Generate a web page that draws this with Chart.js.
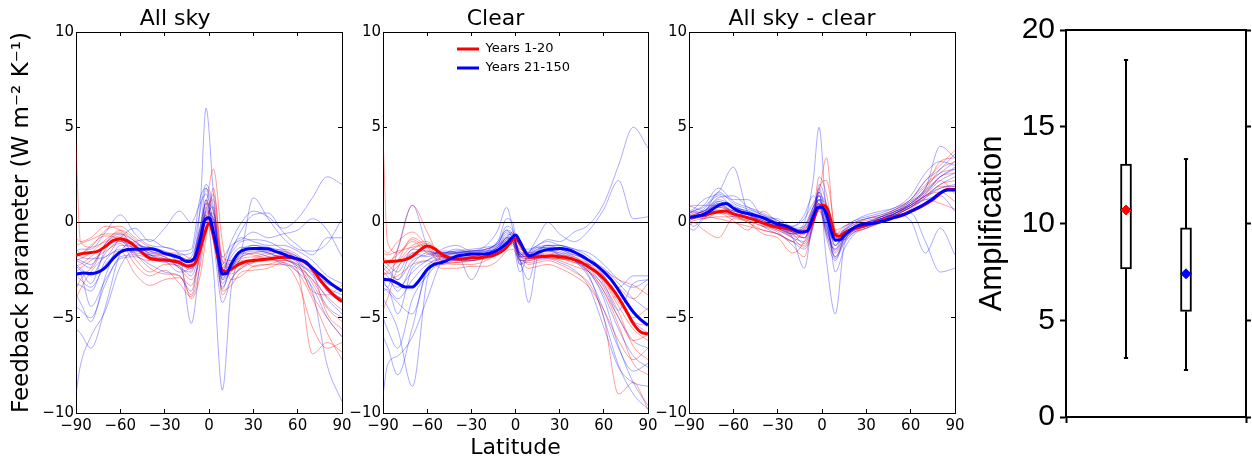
<!DOCTYPE html>
<html>
<head>
<meta charset="utf-8">
<script src="https://cdn.jsdelivr.net/npm/chart.js@4.4.0/dist/chart.umd.min.js"></script>
<style>
html, body { margin: 0; padding: 0; background: #fff; width: 1252px; height: 457px; overflow: hidden; }
canvas { position: absolute; left: 0; top: 0; }
</style>
</head>
<body>
<canvas id="allsky" width="1252" height="470"></canvas>
<canvas id="clear" width="1252" height="470"></canvas>
<canvas id="diff" width="1252" height="470"></canvas>
<canvas id="amp" width="1252" height="470"></canvas>
<script>
// latitudes of the mean curves and of the individual model curves
var latMean = [-90,-85,-80,-75,-70,-65,-60,-55,-50,-45,-40,-35,-30,-25,-20,-15,-10,-6,-3,0,3,6,9,12,15,20,25,30,35,40,45,50,55,60,65,70,75,80,85,90];
var latMember = [-90,-87,-80,-70,-60,-50,-40,-30,-20,-12,-6,-2,3,9,15,22,30,40,50,60,70,80,90];

// All sky
var allRedMean = [-1.71,-1.62,-1.58,-1.5,-1.25,-0.95,-0.86,-0.98,-1.25,-1.6,-1.88,-1.95,-1.98,-2.02,-2.1,-2.28,-2.2,-1.4,-0.6,-0.05,-0.7,-1.8,-2.5,-2.58,-2.45,-2.2,-2.05,-2.0,-1.96,-1.92,-1.86,-1.82,-1.84,-1.92,-2.1,-2.45,-3.0,-3.45,-3.85,-4.15];
var allBlueMean = [-2.71,-2.65,-2.68,-2.6,-2.35,-1.9,-1.55,-1.42,-1.4,-1.4,-1.38,-1.45,-1.62,-1.72,-1.85,-2.05,-1.9,-0.9,0.1,0.25,-0.5,-1.6,-2.7,-2.68,-2.2,-1.6,-1.4,-1.37,-1.37,-1.38,-1.52,-1.65,-1.8,-1.92,-2.05,-2.4,-2.72,-3.05,-3.35,-3.6];
var allRedMembers = [
    [4.1,-1.0,-1.3,-1.0,-0.7,-1.3,-1.8,-2.0,-2.2,-2.5,-1.0,0.6,1.2,-2.4,-2.7,-2.4,-2.1,-1.9,-1.7,-2.0,-3.2,-4.5,-5.2],
    [-2.0,-1.9,-1.6,-0.9,-0.5,-1.6,-2.4,-2.7,-2.8,-3.8,-1.5,0.8,2.8,-1.0,-3.0,-2.8,-2.3,-2.2,-2.2,-3.1,-5.5,-6.6,-6.3],
    [-1.2,-1.1,-0.9,-0.6,-0.6,-1.2,-1.6,-1.7,-1.8,-2.0,-0.6,0.3,-0.4,-2.8,-2.2,-1.8,-1.6,-1.5,-1.4,-1.7,-2.5,-3.6,-4.0],
    [-2.6,-2.4,-2.0,-1.5,-1.1,-2.2,-2.8,-2.5,-3.2,-3.9,-2.3,-0.4,0.2,-3.6,-3.3,-2.6,-2.5,-2.4,-2.1,-2.6,-4.0,-5.8,-7.2],
    [-3.5,-3.0,-2.4,-1.1,-0.4,-0.9,-1.7,-1.9,-2.0,-2.4,-0.9,0.1,0.5,-2.2,-2.5,-2.2,-1.9,-1.7,-1.5,-2.1,-3.6,-3.8,-3.3],
    [-1.4,-1.6,-1.3,-0.4,-0.2,-0.8,-1.3,-1.6,-1.6,-1.9,-1.3,-0.2,1.5,-1.8,-2.0,-1.6,-1.7,-1.9,-1.8,-2.3,-3.0,-3.9,-4.6],
    [-4.0,-3.5,-2.6,-1.8,-1.5,-2.7,-3.3,-3.0,-2.9,-3.3,-1.6,0.3,0.0,-3.8,-3.0,-2.3,-2.1,-2.0,-2.0,-2.5,-6.9,-6.3,-6.8],
    [-1.8,-1.7,-1.2,-0.7,-0.9,-1.7,-2.0,-1.9,-2.4,-3.0,-1.8,0.2,0.8,-3.0,-2.6,-1.9,-1.8,-1.6,-1.6,-1.9,-2.6,-4.8,-5.6],
    [-2.3,-2.2,-1.8,-1.2,-0.8,-1.9,-2.6,-2.2,-2.3,-4.0,-2.8,-0.8,1.8,-2.0,-2.2,-2.0,-2.3,-2.2,-2.0,-2.2,-3.8,-5.0,-6.0],
    [-0.8,-1.0,-0.8,-0.2,-0.4,-1.0,-1.5,-1.8,-2.1,-2.2,-0.3,1.0,0.6,-2.0,-2.4,-2.1,-2.0,-1.8,-1.7,-1.9,-2.4,-3.2,-3.5]
];
var allBlueMembers = [
    [-9.0,-7.5,-6.0,-4.6,-2.3,-1.5,-1.7,-1.8,-2.4,-2.6,-0.8,1.2,-0.5,-2.8,-1.8,-1.3,-1.4,-1.6,-1.9,-2.2,-2.6,-3.2,-3.5],
    [-2.3,-2.5,-3.2,-1.4,-1.0,-1.4,-1.8,-2.0,-2.6,-2.2,0.8,6.0,1.5,-3.2,-2.4,-1.6,-1.4,-1.5,-1.6,-2.0,-2.7,-3.5,-4.0],
    [-2.8,-3.0,-3.4,-2.2,-1.5,-1.4,-1.7,-2.0,-2.0,-1.8,-0.4,0.4,-2.5,-8.8,-3.5,-1.8,-1.2,-1.3,-1.5,-1.8,-2.4,-3.4,-3.8],
    [-5.6,-5.8,-6.6,-4.4,-1.6,-1.0,-0.9,-1.3,-1.7,-5.3,-2.0,0.5,0.2,-2.2,-1.0,0.0,0.6,0.3,-0.3,0.2,1.3,2.4,2.0],
    [-2.0,-2.1,-2.4,-1.1,-0.6,-1.0,-1.6,-1.6,-2.1,-2.4,-1.0,1.2,-0.8,-2.9,-2.4,-1.8,-1.6,-1.8,-2.2,-2.4,-3.6,-7.5,-9.4],
    [-3.8,-4.2,-5.2,-2.8,-1.2,-1.3,-1.5,-1.7,-1.9,-2.1,-0.4,1.8,0.5,-2.6,-1.5,-0.4,0.4,0.5,-0.5,-1.2,-1.7,-0.8,-0.8],
    [-1.5,-1.4,-1.4,-0.5,0.4,-0.6,-1.2,-1.3,-1.5,-1.4,1.3,1.8,-0.4,-3.5,-2.2,-1.4,1.3,0.2,-0.8,-1.4,-1.5,-1.1,0.2],
    [-2.6,-2.7,-4.4,-3.0,-1.9,-1.8,-2.2,-2.6,-2.8,-3.6,-1.2,0.8,-1.0,-4.2,-3.0,-2.4,-2.0,-1.9,-2.1,-2.6,-3.4,-5.0,-6.0],
    [-1.6,-1.8,-1.9,-1.8,-0.8,-0.3,-1.0,-0.3,0.6,0.0,1.0,1.5,0.0,-1.8,-1.2,-0.9,-0.5,-0.8,-0.6,-0.4,0.2,-0.4,-1.8],
    [-2.2,-2.4,-2.8,-1.6,-1.0,-1.2,-1.3,-1.5,-1.8,-2.0,-0.2,1.0,-0.3,-2.4,-1.6,-1.0,-0.9,-1.0,-1.4,-1.8,-2.4,-3.6,-4.2],
    [-3.2,-3.3,-3.6,-2.0,-1.4,-1.6,-1.7,-1.9,-2.2,-2.4,-0.6,0.6,0.2,-3.0,-2.0,-1.4,-1.2,-1.4,-1.7,-2.1,-2.8,-4.0,-4.8],
    [-1.9,-2.0,-2.2,-1.2,-0.8,-1.1,-1.4,-1.6,-1.7,-1.6,0.6,2.0,0.8,-2.6,-1.4,-0.8,-1.0,-1.2,-1.2,-1.5,-2.0,-2.8,-3.2],
    [-4.4,-4.6,-5.0,-3.2,-1.8,-1.7,-1.9,-2.1,-2.3,-2.8,-1.4,0.0,-0.6,-3.4,-2.4,-1.7,-1.5,-1.6,-1.9,-2.3,-3.0,-4.4,-5.0]
];

// Clear
var clrRedMean = [-2.06,-2.05,-2.02,-1.95,-1.77,-1.45,-1.24,-1.37,-1.66,-1.85,-1.9,-1.9,-1.85,-1.85,-1.8,-1.72,-1.55,-1.3,-1.0,-0.85,-1.1,-1.5,-1.8,-1.82,-1.8,-1.78,-1.75,-1.8,-1.85,-1.95,-2.1,-2.35,-2.6,-2.95,-3.4,-3.95,-4.6,-5.3,-5.75,-5.85];
var clrBlueMean = [-2.99,-3.02,-3.2,-3.38,-3.38,-3.0,-2.47,-2.19,-2.1,-1.94,-1.77,-1.7,-1.66,-1.66,-1.66,-1.55,-1.35,-1.1,-0.85,-0.66,-1.0,-1.45,-1.75,-1.7,-1.59,-1.45,-1.4,-1.37,-1.42,-1.55,-1.75,-2.0,-2.25,-2.59,-3.0,-3.55,-4.15,-4.7,-5.1,-5.39];
var clrRedMembers = [
    [4.5,-1.0,-1.6,-1.0,-1.6,-1.8,-1.9,-1.8,-1.6,-1.4,-0.8,-0.8,-1.6,-1.8,-1.7,-1.7,-1.8,-2.0,-2.5,-3.6,-5.0,-6.2,-5.9],
    [-2.5,-2.3,-1.4,0.9,-0.5,-2.0,-2.2,-2.2,-2.0,-1.6,-1.2,-1.0,-1.7,-2.2,-2.1,-2.0,-2.2,-2.6,-3.2,-5.0,-9.0,-8.4,-9.8],
    [-1.4,-1.6,-1.0,-0.5,-1.2,-1.6,-1.6,-1.5,-1.4,-1.2,-0.8,-0.5,-1.3,-1.6,-1.5,-1.5,-1.6,-1.7,-2.0,-2.6,-3.4,-4.0,-3.2],
    [-3.2,-3.0,-2.8,-2.2,-2.0,-2.4,-2.4,-2.3,-2.3,-2.0,-1.5,-1.4,-2.0,-2.4,-2.3,-2.2,-2.4,-2.8,-3.4,-4.6,-6.2,-7.2,-6.6],
    [-4.6,-4.0,-2.4,-1.4,-1.2,-2.0,-2.0,-2.0,-1.8,-1.6,-1.2,-1.0,-1.8,-1.9,-1.7,-1.6,-1.7,-1.8,-2.2,-2.8,-4.0,-5.2,-5.4],
    [-1.8,-2.0,-1.7,-0.9,-1.4,-1.8,-1.8,-1.7,-1.7,-1.5,-1.0,-0.9,-1.5,-1.7,-1.6,-1.8,-2.0,-2.3,-2.6,-3.3,-4.7,-6.5,-7.2],
    [-2.6,-2.7,-2.3,-1.6,-1.5,-2.2,-2.1,-2.0,-1.9,-1.7,-1.3,-1.1,-1.9,-2.1,-2.0,-1.9,-1.9,-2.1,-2.2,-2.5,-3.0,-3.3,-3.8],
    [-2.0,-2.1,-2.0,-1.2,-1.0,-1.8,-1.9,-1.9,-1.7,-1.5,-1.1,-1.0,-1.7,-1.9,-1.8,-1.8,-1.9,-2.0,-2.4,-3.1,-4.4,-5.6,-6.2],
    [-2.8,-2.6,-2.0,-0.8,-1.3,-2.1,-2.1,-2.0,-1.8,-1.6,-1.3,-1.1,-2.0,-2.0,-1.9,-1.8,-1.9,-2.1,-2.6,-3.6,-5.4,-7.4,-8.0],
    [-1.6,-1.7,-1.5,-1.3,-1.1,-1.8,-2.0,-1.9,-1.8,-1.5,-1.1,-1.2,-1.6,-1.9,-1.8,-1.7,-1.8,-2.0,-2.3,-3.0,-4.2,-5.0,-4.5]
];
var clrBlueMembers = [
    [-9.1,-7.5,-7.0,-6.0,-4.0,-2.0,-1.6,-1.5,-1.4,-1.0,0.2,0.0,-2.0,-1.9,-1.6,-1.4,-1.7,-2.0,-2.6,-4.0,-6.5,-8.4,-9.6],
    [-2.6,-2.8,-3.6,-2.2,-1.6,-1.6,-1.5,-1.6,-1.4,-1.1,-0.5,-0.6,-1.4,-1.4,-1.2,-0.9,-1.0,-0.5,-0.1,1.0,3.0,5.0,3.9],
    [-3.6,-3.5,-4.8,-2.4,-2.0,-1.4,-1.2,-1.5,-1.2,-0.4,0.8,-0.3,-2.2,-1.6,-0.8,0.0,-0.6,-1.0,-0.4,0.7,2.2,0.2,0.3],
    [-4.0,-4.4,-5.6,-8.6,-3.0,-1.8,-1.4,-1.6,-1.8,-1.5,-0.9,-0.8,-1.6,-1.8,-1.6,-1.5,-1.7,-2.0,-2.8,-5.0,-7.5,-9.0,-9.8],
    [-2.4,-2.6,-3.0,-1.6,-1.8,-1.5,-1.6,-3.0,-1.6,-1.0,-0.4,-0.9,-2.6,-1.6,-1.2,-1.0,-1.2,-1.4,-1.8,-2.6,-3.4,-2.8,-2.8],
    [-3.0,-3.4,-1.4,0.9,-1.2,-1.7,-1.6,-1.5,-1.5,-1.3,-0.6,-0.7,-1.7,-1.5,-1.3,-1.4,-1.6,-2.0,-2.9,-4.6,-6.6,-7.8,-7.4],
    [-6.0,-6.5,-8.0,-5.5,-2.6,-2.2,-2.0,-2.0,-1.8,-1.4,-1.0,-1.0,-2.2,-2.0,-1.9,-1.9,-2.1,-2.5,-3.4,-5.5,-7.6,-8.4,-8.6],
    [-2.0,-2.2,-2.6,-1.4,-1.5,-1.6,-1.5,-1.4,-1.3,-1.1,-0.4,-0.6,-1.8,-4.2,-1.8,-1.2,-1.4,-1.7,-2.0,-2.4,-3.2,-4.0,-4.6],
    [-3.4,-3.6,-4.2,-4.8,-2.4,-1.8,-1.7,-1.8,-1.6,-1.4,-0.8,-0.9,-1.8,-1.7,-1.4,-1.2,-1.2,-1.4,-1.6,-2.2,-3.0,-3.4,-3.0],
    [-2.8,-3.0,-3.4,-2.6,-2.0,-1.7,-1.6,-1.6,-1.5,-1.2,-0.7,-0.6,-1.6,-1.6,-1.4,-1.3,-1.4,-1.8,-2.4,-3.4,-5.0,-6.2,-6.6],
    [-3.2,-3.4,-4.0,-3.0,-2.2,-1.9,-1.8,-1.7,-1.6,-1.3,-0.9,-0.8,-1.8,-1.7,-1.5,-1.4,-1.5,-1.9,-2.6,-3.8,-5.6,-7.0,-7.6],
    [-2.2,-2.4,-3.0,-2.0,-1.7,-1.6,-1.6,-1.5,-1.5,-1.3,-0.8,-0.7,-1.7,-1.6,-1.3,-1.2,-1.2,-1.5,-2.0,-2.8,-4.0,-5.2,-5.8],
    [-5.0,-5.6,-6.6,-4.0,-2.8,-2.0,-1.8,-1.7,-1.6,-1.2,-0.2,-0.4,-2.0,-3.0,-1.5,-1.3,-1.3,-1.6,-2.2,-3.2,-4.6,-3.2,-3.0]
];

// All sky - clear
var difRedMean = [0.26,0.32,0.38,0.48,0.56,0.6,0.45,0.35,0.24,0.12,-0.02,-0.15,-0.25,-0.3,-0.4,-0.5,-0.45,0.1,0.7,0.91,0.82,0.12,-0.66,-0.72,-0.55,-0.35,-0.25,-0.14,-0.03,0.09,0.2,0.3,0.42,0.59,0.75,0.96,1.2,1.52,1.73,1.73];
var difBlueMean = [0.26,0.33,0.42,0.65,0.9,1.0,0.75,0.55,0.47,0.37,0.25,0.08,-0.09,-0.17,-0.33,-0.5,-0.45,0.3,0.78,0.8,0.45,-0.4,-0.92,-0.92,-0.7,-0.35,-0.15,-0.08,-0.04,0.05,0.16,0.28,0.4,0.58,0.78,1.0,1.25,1.55,1.7,1.7];
var difRedMembers = [
    [0.5,0.6,0.5,0.6,0.4,0.0,-0.4,-0.6,-1.0,-0.3,0.8,1.6,3.4,-0.6,-0.6,-0.3,0.0,0.3,0.7,1.2,2.2,3.0,3.8],
    [0.0,0.1,0.2,0.3,0.3,0.1,-0.2,-0.3,-0.6,-0.6,0.6,1.0,0.4,-0.8,-0.5,-0.3,-0.1,0.2,0.5,0.9,1.4,1.6,1.1],
    [0.8,0.9,0.9,0.9,0.5,0.3,0.0,-0.2,-0.4,-0.3,0.4,1.4,1.0,-0.6,-0.4,-0.1,0.2,0.4,0.7,1.2,2.0,2.6,2.8],
    [-0.2,0.0,-0.4,-0.8,0.2,0.0,-0.6,-0.8,-1.6,-1.0,0.2,0.7,-0.6,-1.8,-0.9,-0.5,-0.3,0.1,0.4,0.8,1.2,1.0,0.7],
    [0.3,0.4,0.6,0.9,0.6,0.4,0.1,-0.3,-0.8,-1.3,-0.2,0.9,0.8,-0.4,-0.2,0.0,0.1,0.3,0.6,1.0,1.6,2.2,1.5],
    [0.2,0.3,0.2,0.5,0.1,-0.4,0.6,0.0,-0.5,-0.8,0.3,2.4,1.5,-1.0,-0.6,-0.2,-0.1,0.1,0.5,1.0,1.8,3.2,3.4],
    [0.4,0.4,0.3,0.7,0.3,0.1,-0.2,-0.5,-1.2,-1.8,0.0,0.6,-0.4,-1.5,-0.8,-0.4,-0.2,0.0,0.4,0.8,1.4,1.9,1.9],
    [0.3,0.3,0.4,0.5,0.4,0.2,-0.1,-0.4,-0.7,-0.8,0.4,1.2,0.9,-0.9,-0.6,-0.3,-0.1,0.2,0.5,0.8,1.5,2.4,2.6],
    [0.1,0.2,0.3,0.2,0.0,-0.2,-0.4,-0.6,-1.0,-1.2,-0.1,1.8,2.2,-0.4,-0.9,-0.5,-0.3,0.0,0.3,0.7,1.3,2.0,2.2],
    [0.6,0.5,0.5,0.8,0.5,0.3,0.0,-0.2,-0.5,-0.6,0.5,0.8,0.3,-1.2,-0.7,-0.4,-0.2,0.1,0.5,0.9,1.7,2.8,3.2]
];
var difBlueMembers = [
    [0.4,0.3,0.5,1.0,0.6,0.5,0.2,-0.3,-0.5,0.0,2.2,5.0,0.4,-1.4,-0.8,-0.2,0.0,0.3,0.6,0.9,1.4,1.8,1.9],
    [0.2,0.3,0.7,1.4,0.8,0.6,0.2,-0.2,-0.6,-0.4,0.4,1.6,-2.0,-4.8,-1.2,-0.4,-0.2,0.3,0.6,1.0,1.6,2.4,2.8],
    [0.6,0.7,1.2,1.6,2.9,0.5,0.1,-0.3,-0.6,-0.2,0.8,1.2,-0.6,-1.4,-0.5,-0.1,0.0,0.2,0.5,0.9,1.4,2.0,2.4],
    [0.2,0.2,0.4,1.1,0.7,0.4,0.0,-0.2,-0.8,-2.4,0.2,1.0,-0.8,-2.0,-0.8,-0.2,0.0,0.2,0.4,0.5,-1.0,-2.6,-2.4],
    [0.4,0.5,0.6,1.3,1.4,0.8,0.4,0.0,-0.2,0.2,1.0,1.4,-0.4,-1.2,-0.4,0.0,0.2,0.3,0.4,0.1,-1.6,-0.3,-1.7],
    [0.0,-0.2,0.3,1.0,0.5,0.3,-0.1,-0.4,-0.8,-1.0,0.3,1.8,0.0,-1.8,-1.0,-0.3,-0.1,0.2,0.6,1.1,1.8,4.0,3.4],
    [0.9,0.8,0.6,1.6,1.0,0.7,0.4,0.1,-0.3,-0.2,0.6,1.2,0.2,-0.6,-0.2,0.1,0.3,0.5,0.8,1.2,2.2,2.8,3.6],
    [-0.3,-0.4,0.2,0.6,0.3,0.5,-0.2,-0.6,-1.0,-1.4,-0.2,2.0,0.9,-2.6,-1.4,-0.6,-0.3,0.0,0.4,0.8,1.2,1.4,0.6],
    [0.5,0.6,0.8,1.5,1.2,1.2,0.3,0.2,-0.2,0.4,1.4,0.9,-0.2,-1.0,-0.3,0.1,0.4,0.6,0.8,1.4,2.6,3.2,3.0],
    [0.3,0.4,0.6,1.1,0.8,0.6,0.3,0.0,-0.4,-0.6,0.6,1.4,0.2,-1.2,-0.6,-0.2,0.0,0.2,0.5,0.9,1.5,2.2,2.6],
    [0.1,0.2,0.5,1.2,0.9,0.5,0.2,-0.1,-0.5,-0.8,0.2,1.0,-0.2,-1.6,-0.9,-0.4,-0.2,0.1,0.4,0.8,1.3,1.8,2.0],
    [0.5,0.6,0.9,1.8,1.1,0.8,0.5,0.1,-0.3,-0.4,0.8,1.6,0.6,-0.8,-0.4,0.0,0.2,0.4,0.7,1.1,1.9,2.6,3.2],
    [0.2,0.3,0.5,0.8,0.6,0.4,0.1,-0.2,-0.6,-1.1,0.0,1.2,0.0,-1.9,-1.1,-0.5,-0.2,0.1,0.5,1.0,1.7,2.4,2.9]
];

// box plot of the amplification
var boxLabels = ['Years 1-20', 'Years 21-150'];
var boxWhiskerLow = [3.05, 2.43];
var boxQ1 = [7.65, 5.45];
var boxMedian = [10.7, 7.4];
var boxQ3 = [13.07, 9.77];
var boxWhiskerHigh = [18.45, 13.33];
var boxMean = [10.7, 7.4];

var FONT = "'DejaVu Sans', sans-serif";
var RED_THIN = 'rgba(255,0,0,0.38)';
var BLUE_THIN = 'rgba(0,0,255,0.33)';

function minus(v) { return String(v).replace('-', '\u2212'); }
function pts(lat, vals) { return vals.map(function (v, i) { return {x: lat[i], y: v}; }); }

// puts the legend inside the plot, upper middle (like matplotlib loc='upper center')
var legendShift = {
    id: 'legendShift',
    afterLayout: function (chart, args, opts) {
        if (chart.legend && opts.dx !== undefined) {
            chart.legend.left = chart.chartArea.left + opts.dx;
            chart.legend.top = chart.chartArea.top + opts.dy;
        }
    }
};

function panel(id, p) {
    var ds = [];
    ds.push({label: 'Years 1-20', data: pts(latMean, p.redMean), borderColor: '#ff0000', borderWidth: 3, order: 1});
    ds.push({label: 'Years 21-150', data: pts(latMean, p.blueMean), borderColor: '#0000ff', borderWidth: 3, order: 0});
    p.redMembers.forEach(function (m) {
        ds.push({label: '', data: pts(latMember, m), borderColor: RED_THIN, borderWidth: 1, order: 3});
    });
    p.blueMembers.forEach(function (m) {
        ds.push({label: '', data: pts(latMember, m), borderColor: BLUE_THIN, borderWidth: 1, order: 2});
    });

    var inward = {drawOnChartArea: false, tickLength: -4, tickColor: '#000', tickWidth: 1};
    var border = {display: true, color: '#000', width: 1};

    return new Chart(document.getElementById(id), {
        type: 'line',
        data: {datasets: ds},
        plugins: [legendShift],
        options: {
            responsive: false,
            animation: false,
            events: [],
            layout: {padding: {left: p.left - p.yWidth, right: 1252 - p.right, top: 3.6, bottom: 9}},
            elements: {
                point: {radius: 0},
                line: {cubicInterpolationMode: 'monotone', fill: false}
            },
            plugins: {
                title: {display: true, text: p.title, color: '#000', font: {family: FONT, size: 22, weight: 'normal'}, padding: {top: 2, bottom: 0}},
                legend: {
                    display: !!p.legend,
                    position: 'chartArea',
                    align: 'start',
                    labels: {
                        color: '#000',
                        font: {family: FONT, size: 13},
                        usePointStyle: true,
                        pointStyle: 'line',
                        pointStyleWidth: 22,
                        padding: 6,
                        filter: function (item) { return item.text !== ''; },
                        sort: function (a, b) { return a.datasetIndex - b.datasetIndex; }
                    }
                },
                legendShift: p.legend ? {dx: 68, dy: 4.5} : {},
                tooltip: {enabled: false}
            },
            scales: {
                x: {
                    type: 'linear', min: -90, max: 90, position: 'bottom',
                    afterFit: function (s) { s.height = 48; },
                    ticks: {stepSize: 30, autoSkip: false, maxRotation: 0, color: '#000', padding: 8,
                        font: {family: FONT, size: 15}, callback: minus},
                    grid: inward,
                    border: border,
                    title: {display: !!p.xTitle, text: p.xTitle || '', color: '#000', padding: 0,
                        font: {family: FONT, size: 22}}
                },
                xTop: {
                    type: 'linear', min: -90, max: 90, position: 'top',
                    afterFit: function (s) { s.height = 0; },
                    ticks: {display: false, stepSize: 30},
                    grid: inward,
                    border: border
                },
                y: {
                    type: 'linear', min: -10, max: 10, position: 'left',
                    afterFit: function (s) { s.width = p.yWidth; },
                    ticks: {stepSize: 5, color: '#000', padding: 6, font: {family: FONT, size: 15}, callback: minus},
                    grid: {
                        drawOnChartArea: true,
                        color: function (c) { return c.tick && c.tick.value === 0 ? '#000' : 'rgba(0,0,0,0)'; },
                        tickLength: -4, tickColor: '#000', tickWidth: 1
                    },
                    border: border,
                    title: {display: !!p.yTitle, text: p.yTitle || '', color: '#000', padding: 0,
                        font: {family: FONT, size: 23}}
                },
                yRight: {
                    type: 'linear', min: -10, max: 10, position: 'right',
                    afterFit: function (s) { s.width = 0; },
                    ticks: {display: false, stepSize: 5},
                    grid: inward,
                    border: border
                }
            }
        }
    });
}

panel('allsky', {
    title: 'All sky', left: 76, right: 342, yWidth: 67.8,
    yTitle: 'Feedback parameter (W m\u207B\u00B2 K\u207B\u00B9)',
    redMean: allRedMean, blueMean: allBlueMean, redMembers: allRedMembers, blueMembers: allBlueMembers
});
panel('clear', {
    title: 'Clear', left: 383, right: 648, yWidth: 40, xTitle: 'Latitude', legend: true,
    redMean: clrRedMean, blueMean: clrBlueMean, redMembers: clrRedMembers, blueMembers: clrBlueMembers
});
panel('diff', {
    title: 'All sky - clear', left: 689, right: 955, yWidth: 40,
    redMean: difRedMean, blueMean: difBlueMean, redMembers: difRedMembers, blueMembers: difBlueMembers
});

// box plot panel
var boxPos = [1, 2];
var boxColors = ['#ff0000', '#0000ff'];
var boxHalf = 0.09, capHalf = 0.035;
var boxDs = [{
    type: 'bar',
    label: 'box',
    data: boxPos.map(function (x, i) { return {x: x, y: [boxQ1[i], boxQ3[i]]}; }),
    backgroundColor: '#fff', borderColor: '#000', borderWidth: 2, borderSkipped: false,
    barThickness: 11, order: 3
}];
function seg(a, b) {
    return {type: 'line', label: '', data: [a, b], borderColor: '#000', borderWidth: 2,
        pointRadius: 0, tension: 0, fill: false, order: 1};
}
boxPos.forEach(function (x, i) {
    boxDs.push(seg({x: x, y: boxWhiskerLow[i]}, {x: x, y: boxQ1[i]}));
    boxDs.push(seg({x: x, y: boxQ3[i]}, {x: x, y: boxWhiskerHigh[i]}));
    boxDs.push(seg({x: x - capHalf, y: boxWhiskerLow[i]}, {x: x + capHalf, y: boxWhiskerLow[i]}));
    boxDs.push(seg({x: x - capHalf, y: boxWhiskerHigh[i]}, {x: x + capHalf, y: boxWhiskerHigh[i]}));
    boxDs.push(seg({x: x - boxHalf, y: boxMedian[i]}, {x: x + boxHalf, y: boxMedian[i]}));
    boxDs.push({type: 'line', label: boxLabels[i], data: [{x: x, y: boxMean[i]}], showLine: false,
        pointStyle: 'rectRot', pointRadius: 5, backgroundColor: boxColors[i], borderColor: boxColors[i],
        borderWidth: 1, order: 0});
});

var AFONT = "'Liberation Sans', Arial, sans-serif";
var thick = {display: true, color: '#000', width: 2};
new Chart(document.getElementById('amp'), {
    type: 'bar',
    data: {datasets: boxDs},
    options: {
        responsive: false,
        animation: false,
        events: [],
        layout: {padding: {left: 973.4, right: 0, top: 30, bottom: 33}},
        plugins: {legend: {display: false}, tooltip: {enabled: false}},
        scales: {
            x: {
                type: 'linear', min: 0, max: 3, offset: false, position: 'bottom',
                afterFit: function (s) { s.height = 20; },
                ticks: {display: false, stepSize: 3},
                grid: {offset: false, drawOnChartArea: false, tickLength: 6, tickColor: '#000', tickWidth: 2},
                border: thick
            },
            xTop: {
                type: 'linear', min: 0, max: 3, position: 'top',
                afterFit: function (s) { s.height = 0; },
                ticks: {display: false},
                grid: {drawOnChartArea: false, drawTicks: false},
                border: thick
            },
            y: {
                type: 'linear', min: 0, max: 20, position: 'left',
                afterFit: function (s) { s.width = 92.6; },
                ticks: {stepSize: 5, color: '#000', padding: 5, font: {family: AFONT, size: 30}},
                grid: {drawOnChartArea: false, tickLength: 6, tickColor: '#000', tickWidth: 2},
                border: thick,
                title: {display: true, text: 'Amplification', color: '#000', padding: 0, font: {family: AFONT, size: 31}}
            },
            yRight: {
                type: 'linear', min: 0, max: 20, position: 'right',
                afterFit: function (s) { s.width = 6; },
                ticks: {display: false, stepSize: 5},
                grid: {drawOnChartArea: false, tickLength: 5, tickColor: '#000', tickWidth: 2},
                border: thick
            }
        }
    }
});
</script>
</body>
</html>
